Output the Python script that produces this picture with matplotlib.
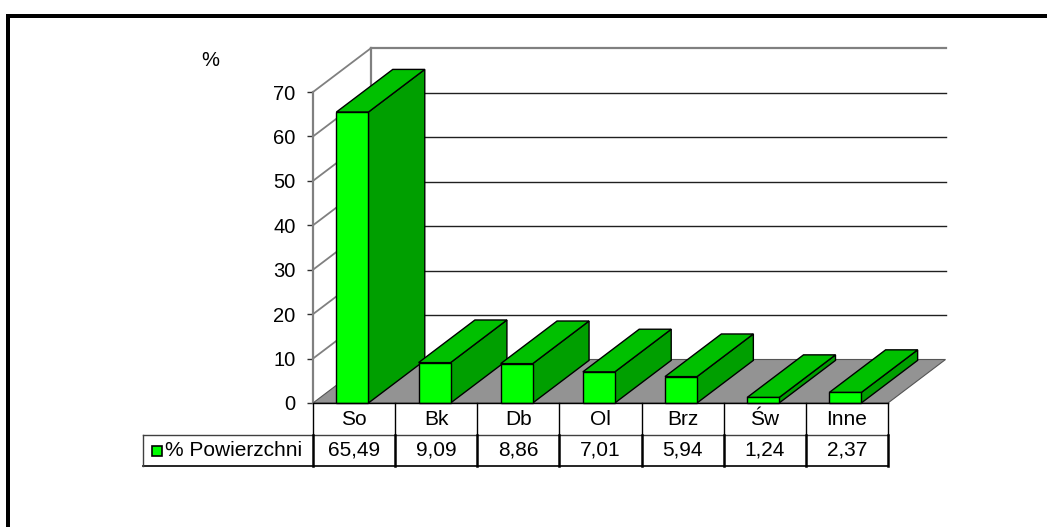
import matplotlib
matplotlib.use("Agg")
import matplotlib.pyplot as plt
from matplotlib.patches import Polygon, Rectangle
from matplotlib.lines import Line2D
from matplotlib.transforms import blended_transform_factory

# ---- data ----
categories = ["So", "Bk", "Db", "Ol", "Brz", "Św", "Inne"]
values = [65.49, 9.09, 8.86, 7.01, 5.94, 1.24, 2.37]
series_name = "% Powierzchni"
y_ticks = [0, 10, 20, 30, 40, 50, 60, 70]
y_label = "%"

# ---- layout (pixels) ----
W, H, DPI = 1047, 527, 100
X0, X1, Y_TOP, Y_BOT = 313, 888, 92, 403      # front plane of the plot box
DX, DY = 57.5, 43.5                            # depth vector
ROW1, ROW2 = 435, 466                          # data table row bottoms
LEG_LEFT = 143                                 # legend cell left edge
FS_TICK = 14.5
FS_TABLE = 15

plt.rcParams["font.family"] = ["Liberation Sans", "DejaVu Sans"]

FRONT = "#00FF00"
TOP = "#00C000"
SIDE = "#009F00"
FLOOR = "#939393"
WALL_EDGE = "#808080"

fig = plt.figure(figsize=(W / DPI, H / DPI), dpi=DPI)
fig.patch.set_facecolor("white")

ax = fig.add_axes([X0 / W, (H - Y_BOT) / H, (X1 - X0) / W, (Y_BOT - Y_TOP) / H])
n = len(categories)
ymax = y_ticks[-1]
ax.set_xlim(0, n)
ax.set_ylim(0, ymax)
ax.patch.set_visible(False)
for s in ("top", "right", "bottom"):
    ax.spines[s].set_visible(False)
ax.spines["left"].set_color(WALL_EDGE)
ax.spines["left"].set_linewidth(1.6)
ax.spines["left"].set_zorder(6)
ax.set_xticks([])
ax.set_yticks(y_ticks)
ax.tick_params(axis="y", length=4.5, width=1, color="#303030", pad=8,
               labelsize=FS_TICK, labelcolor="black")

# oblique projection: (x, y, depth) -> data coordinates of the front plane
ppx = (X1 - X0) / n
ppy = (Y_BOT - Y_TOP) / ymax


def P(x, y, d):
    return (x + d * DX / ppx, y + d * DY / ppy)


def poly(pts, fc, ec, lw=1.0, z=1):
    ax.add_patch(Polygon(pts, closed=True, facecolor=fc, edgecolor=ec,
                         linewidth=lw, zorder=z, clip_on=False,
                         joinstyle="miter"))


def line(p, q, color, lw=1.0, z=1, trans=None):
    ax.add_line(Line2D([p[0], q[0]], [p[1], q[1]], color=color, linewidth=lw,
                       zorder=z, clip_on=False,
                       transform=trans if trans is not None else ax.transData))


# walls and floor
poly([P(0, 0, 1), P(n, 0, 1), P(n, ymax, 1), P(0, ymax, 1)], "white", "none", z=1)
poly([P(0, 0, 0), P(0, 0, 1), P(0, ymax, 1), P(0, ymax, 0)], "white", "none", z=1)
for t in y_ticks[1:-1]:
    line(P(0, t, 1), P(n, t, 1), "#202020", 1.0, z=1.5)
for t in y_ticks[1:]:
    line(P(0, t, 0), P(0, t, 1), WALL_EDGE, 1.3, z=1.5)
line(P(0, ymax, 1), P(n, ymax, 1), WALL_EDGE, 1.6, z=1.5)
line(P(0, 0, 1), P(0, ymax, 1), WALL_EDGE, 1.6, z=1.5)
poly([P(0, 0, 0), P(n, 0, 0), P(n, 0, 1), P(0, 0, 1)], FLOOR, "#555555", lw=0.8, z=2)

# 3D columns
bw = 32 / ppx
d1 = 0.98
for i, v in enumerate(values):
    xl, xr = i + 0.48 - bw / 2, i + 0.48 + bw / 2
    z = 3 + i
    poly([P(xr, 0, 0), P(xr, 0, d1), P(xr, v, d1), P(xr, v, 0)], SIDE, "black", 1.0, z)
    poly([P(xl, v, 0), P(xr, v, 0), P(xr, v, d1), P(xl, v, d1)], TOP, "black", 1.0, z)
    poly([P(xl, 0, 0), P(xr, 0, 0), P(xr, v, 0), P(xl, v, 0)], FRONT, "black", 1.0, z)

# data table below the plot
bt = blended_transform_factory(ax.transData, ax.transAxes)
axh = Y_BOT - Y_TOP
r1 = -(ROW1 - Y_BOT) / axh
r2 = -(ROW2 - Y_BOT) / axh
xleg = (LEG_LEFT - X0) / ppx
line((0, 0), (n, 0), "black", 1.0, z=20, trans=bt)
line((xleg, r1), (n, r1), "#404040", 1.0, z=20, trans=bt)
line((xleg, r2), (n, r2), "black", 1.2, z=20, trans=bt)
line((xleg, r1), (xleg, r2), "#404040", 1.0, z=20, trans=bt)
for k in range(n + 1):
    line((k, 0), (k, r1), "black", 1.0, z=20, trans=bt)
    line((k, r1), (k, r2), "black", 1.8, z=20, trans=bt)

for i, (c, v) in enumerate(zip(categories, values)):
    ax.text(i + 0.5, (0 + r1) / 2 - 0.003, c, transform=bt, ha="center",
            va="center", fontsize=FS_TABLE, clip_on=False)
    ax.text(i + 0.5, (r1 + r2) / 2, f"{v:.2f}".replace(".", ","), transform=bt,
            ha="center", va="center", fontsize=FS_TABLE, clip_on=False)

# legend key inside the table
key_x0 = (152 - X0) / ppx
key_w = 10 / ppx
key_h = 10 / axh
ymid = (r1 + r2) / 2
ax.add_patch(Rectangle((key_x0, ymid - key_h / 2), key_w, key_h, transform=bt,
                       facecolor=FRONT, edgecolor="black", linewidth=1.2,
                       clip_on=False, zorder=21))
ax.text((165 - X0) / ppx, ymid, series_name, transform=bt, ha="left",
        va="center", fontsize=FS_TABLE, clip_on=False)

# axis unit label
fig.text(210 / W, 1 - 60 / H, y_label, ha="center", va="center", fontsize=FS_TICK)

# outer chart frame
lw_frame = 4 * 72 / DPI
fig.add_artist(Line2D([8 / W, 8 / W], [1 - 15.5 / H, -0.1], color="black",
                      linewidth=lw_frame, transform=fig.transFigure,
                      solid_capstyle="projecting"))
fig.add_artist(Line2D([8 / W, 1.1], [1 - 15.5 / H, 1 - 15.5 / H], color="black",
                      linewidth=lw_frame, transform=fig.transFigure,
                      solid_capstyle="projecting"))

fig.savefig("out.png", dpi=DPI, facecolor="white")
